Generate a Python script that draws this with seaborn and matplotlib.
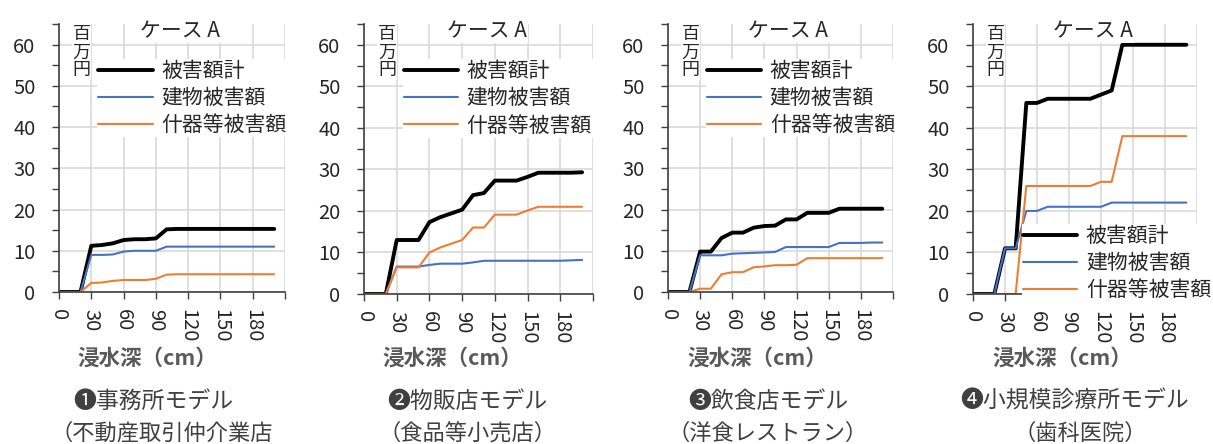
import matplotlib
matplotlib.use('Agg')
import matplotlib.pyplot as plt
from matplotlib.ticker import MultipleLocator
import seaborn as sns
import pandas as pd

# 浸水深 (cm), 10cm刻み
depth = list(range(0, 201, 10))

# ❶事務所モデル
total_1 = [0, 0, 0, 11.2, 11.4, 11.8, 12.6, 12.8, 12.8, 13.0, 15.2, 15.3, 15.3, 15.3, 15.3, 15.3, 15.3, 15.3, 15.3, 15.3, 15.3]
bldg_1 = [0, 0, 0, 9.0, 9.0, 9.1, 9.8, 10.0, 10.0, 10.0, 11.0, 11.0, 11.0, 11.0, 11.0, 11.0, 11.0, 11.0, 11.0, 11.0, 11.0]
equip_1 = [0, 0, 0, 2.2, 2.3, 2.7, 2.9, 2.9, 2.9, 3.2, 4.2, 4.3, 4.3, 4.3, 4.3, 4.3, 4.3, 4.3, 4.3, 4.3, 4.3]

# ❷物販店モデル
total_2 = [0, 0, 0, 13.0, 13.0, 13.0, 17.3, 18.5, 19.4, 20.3, 23.8, 24.3, 27.3, 27.3, 27.3, 28.2, 29.2, 29.2, 29.2, 29.2, 29.3]
bldg_2 = [0, 0, 0, 6.6, 6.6, 6.6, 7.0, 7.3, 7.3, 7.3, 7.6, 8.0, 8.0, 8.0, 8.0, 8.0, 8.0, 8.0, 8.0, 8.1, 8.2]
equip_2 = [0, 0, 0, 6.4, 6.4, 6.4, 10.0, 11.2, 12.1, 13.0, 16.0, 16.0, 19.1, 19.1, 19.1, 20.1, 21.0, 21.0, 21.0, 21.0, 21.0]

# ❸飲食店モデル
total_3 = [0, 0, 0, 9.8, 9.8, 13.1, 14.4, 14.4, 15.6, 16.0, 16.1, 17.6, 17.6, 19.2, 19.2, 19.2, 20.2, 20.2, 20.2, 20.2, 20.2]
bldg_3 = [0, 0, 0, 8.9, 8.9, 8.9, 9.3, 9.4, 9.5, 9.6, 9.7, 10.9, 10.9, 10.9, 10.9, 10.9, 11.9, 11.9, 11.9, 12.0, 12.0]
equip_3 = [0, 0, 0, 0.8, 0.8, 4.3, 4.8, 4.8, 6.0, 6.2, 6.5, 6.5, 6.6, 8.2, 8.2, 8.2, 8.2, 8.2, 8.2, 8.2, 8.2]

# ❹小規模診療所モデル
total_4 = [0, 0, 0, 11.0, 11.0, 46.0, 46.0, 47.0, 47.0, 47.0, 47.0, 47.0, 48.0, 49.0, 60.0, 60.0, 60.0, 60.0, 60.0, 60.0, 60.0]
bldg_4 = [0, 0, 0, 11.0, 11.0, 20.0, 20.0, 21.0, 21.0, 21.0, 21.0, 21.0, 21.0, 22.0, 22.0, 22.0, 22.0, 22.0, 22.0, 22.0, 22.0]
equip_4 = [0, 0, 0, 0, 0, 26.0, 26.0, 26.0, 26.0, 26.0, 26.0, 26.0, 27.0, 27.0, 38.0, 38.0, 38.0, 38.0, 38.0, 38.0, 38.0]

series_names = ['被害額計', '建物被害額', '什器等被害額']
captions = [('❶事務所モデル', '（不動産取引仲介業店'),
            ('❷物販店モデル', '（食品等小売店）'),
            ('❸飲食店モデル', '（洋食レストラン）'),
            ('❹小規模診療所モデル', '（歯科医院）')]
panels = [(total_1, bldg_1, equip_1), (total_2, bldg_2, equip_2),
          (total_3, bldg_3, equip_3), (total_4, bldg_4, equip_4)]
x_ticks = [0, 30, 60, 90, 120, 150, 180, 210]
x_ticklabels = ['0', '30', '60', '90', '120', '150', '180', '']

sns.set_style('white')
plt.rcParams['font.family'] = ['Noto Sans CJK JP', 'DejaVu Sans']

W, H = 1213, 444
fig = plt.figure(figsize=(W / 100, H / 100), dpi=100)

# axes boxes in pixels: left, right, bottom, top
boxes = [(59, 285, 292, 24), (364, 593, 294, 24), (668, 893, 292, 24), (973, 1197, 294, 24)]
xlabel_x = [147, 452, 757, 1062]
cap_x = [(153, 162), (467, 468), (768, 768), (1075, 1080)]
colors = ['black', '#4472C4', '#ED7D31']
widths = [2.8, 1.5, 1.5]
txt = '#262626'
gray = '#595959'

for i, (vals, (l, r, b, t)) in enumerate(zip(panels, boxes)):
    ax = fig.add_axes([l / W, 1 - b / H, (r - l) / W, (b - t) / H])
    df = pd.DataFrame({'depth': depth})
    for name, v, c, lw in zip(series_names, vals, colors, widths):
        df[name] = v
        sns.lineplot(data=df, x='depth', y=name, color=c, linewidth=lw, label=name, ax=ax)
    ax.set_xlim(0, 210)
    ax.set_ylim(0, 65)
    ax.set_xticks(x_ticks)
    ax.set_xticklabels(x_ticklabels, rotation=-90)
    ax.set_yticks([0, 10, 20, 30, 40, 50, 60])
    ax.yaxis.set_minor_locator(MultipleLocator(5))
    ax.tick_params(axis='y', which='both', direction='out', length=5, width=1, color='#404040',
                   left=True, labelsize=14.5, labelcolor=txt, pad=12)
    ax.tick_params(axis='x', direction='out', length=5, width=1, color='#404040',
                   bottom=True, labelsize=14.5, labelcolor=txt, pad=7)
    ax.grid(True, which='major', color='#d9d9d9', linewidth=1.2)
    ax.set_axisbelow(True)
    for s in ['top', 'right']:
        ax.spines[s].set_visible(False)
    for s in ['left', 'bottom']:
        ax.spines[s].set_color('#404040')
        ax.spines[s].set_linewidth(1.2)
    ax.set_xlabel('')
    ax.set_ylabel('')

    ax.text(0.535, 1.015, 'ケース A', transform=ax.transAxes, ha='center', va='top',
            fontsize=15, color=txt, bbox=dict(facecolor='white', edgecolor='none', pad=1))
    ax.text(0.10, 0.995, '百\n万\n円', transform=ax.transAxes, ha='center', va='top',
            fontsize=13, color=txt, linespacing=1.0,
            bbox=dict(facecolor='white', edgecolor='none', pad=0.5))

    if i < 3:
        anchor = (0.17, 0.87)
    else:
        anchor = (0.22, 0.26)
    leg = ax.legend(loc='upper left', bbox_to_anchor=anchor, fontsize=15,
                    handlelength=2.6, handletextpad=0.4, labelspacing=0.25,
                    borderpad=0.05, borderaxespad=0, frameon=True, fancybox=False)
    leg.get_frame().set_facecolor('white')
    leg.get_frame().set_edgecolor('none')
    leg.get_frame().set_alpha(1)
    for tx in leg.get_texts():
        tx.set_color(txt)

    fig.text(xlabel_x[i] / W, 1 - 358 / H, '浸水深（cm）', ha='center', va='center',
             fontsize=15.5, fontweight='bold', color=gray)
    fig.text(cap_x[i][0] / W, 1 - 401 / H, captions[i][0], ha='center', va='center',
             fontsize=16.5, color='#404040')
    fig.text(cap_x[i][1] / W, 1 - 433 / H, captions[i][1], ha='center', va='center',
             fontsize=16, color='#404040')

fig.savefig('out.png', dpi=100)
